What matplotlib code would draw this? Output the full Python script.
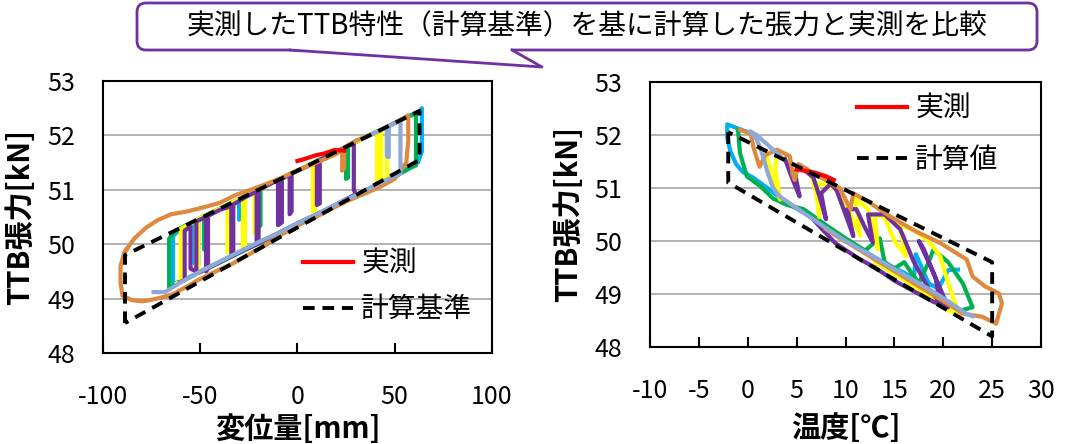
import matplotlib
matplotlib.use('Agg')
import matplotlib.pyplot as plt
from matplotlib.patches import FancyBboxPatch, Polygon

plt.rcParams['font.family'] = ['Noto Sans CJK JP', 'DejaVu Sans']
plt.rcParams['axes.unicode_minus'] = False

title = '実測したTTB特性（計算基準）を基に計算した張力と実測を比較'
ylabel = 'TTB張力[kN]'
xlabel_L = '変位量[mm]'
xlabel_R = '温度[℃]'
legend_L = ['実測', '計算基準']
legend_R = ['実測', '計算値']

xticks_L = [-100, -50, 0, 50, 100]
xticks_R = [-10, -5, 0, 5, 10, 15, 20, 25, 30]
yticks = [48, 49, 50, 51, 52, 53]

# ---- left panel: displacement [mm] vs tension [kN] ----
calc_L = [(-88.7, 48.55), (-88.7, 49.8), (62.8, 52.45), (62.8, 51.55), (-88.7, 48.55)]

red_L = [(0, 51.53), (4, 51.57), (9, 51.63), (14, 51.67), (19, 51.73), (24, 51.72)]

blue_L = [(55, 52.32), (60, 52.4), (63, 52.45), (64, 52.5), (64, 51.7), (62, 51.5), (58, 51.42),
          (50, 51.26), (40, 51.08), (30, 50.9), (20, 50.72), (10, 50.55), (0, 50.38), (-10, 50.2),
          (-20, 50.02), (-30, 49.85), (-40, 49.67), (-50, 49.5), (-58, 49.35), (-63, 49.28),
          (-64, 49.3), (-64, 50.15), (-62, 50.22), (-59, 50.28), (-56, 50.35), (-53, 50.4),
          (-53, 49.65), (-51, 49.62), (-51, 50.44), (-46, 50.55), (-42, 50.62), (-38, 50.68),
          (-34, 50.75), (-30, 50.82), (-30, 50.45), (-29, 50.5)]

green_L = [(61, 52.4), (61, 51.45), (58, 51.4), (50, 51.24), (40, 51.06), (30, 50.89), (20, 50.71),
           (10, 50.54), (0, 50.36), (-10, 50.19), (-20, 50.01), (-30, 49.84), (-40, 49.66),
           (-50, 49.49), (-60, 49.31), (-66, 49.2), (-66, 50.1), (-64, 50.2), (-60, 50.3),
           (-56, 50.37), (-50, 50.48), (-48, 50.52), (-48, 49.9), (-47, 49.92), (-47, 50.53),
           (-40, 50.65), (-30, 50.83), (-20, 51.0), (-20, 50.3), (-19, 50.35), (-19, 51.02),
           (-10, 51.18), (0, 51.35), (10, 51.53), (20, 51.7), (25, 51.79), (25, 51.2), (26, 51.22),
           (26, 51.8), (35, 51.97), (45, 52.14), (55, 52.32), (61, 52.4)]

yellow_L = [(-62, 49.28), (-60, 49.3), (-60, 50.28), (-56, 50.36), (-52, 50.44), (-52, 49.45),
            (-51, 49.5), (-51, 50.46), (-42, 50.62), (-36, 50.72), (-36, 49.85), (-35, 49.87),
            (-35, 50.74), (-28, 50.86), (-28, 49.9), (-27, 49.94), (-27, 50.88), (-22, 50.96),
            (-22, 50.2), (-21, 50.24), (-21, 50.98), (-10, 51.18), (0, 51.35), (8, 51.5), (8, 50.6),
            (9, 50.63), (9, 51.51), (20, 51.7), (30, 51.88), (41, 52.07), (41, 51.1), (43, 51.15),
            (43, 52.1), (46, 52.15), (46, 51.3), (47, 51.28), (40, 51.06), (30, 50.89), (20, 50.71)]

purple_L = [(-60, 49.31), (-58, 49.34), (-58, 50.25), (-55, 50.32), (-55, 49.55), (-52, 49.5),
            (-52, 50.42), (-47, 50.5), (-47, 49.5), (-46, 49.55), (-46, 50.52), (-40, 50.63),
            (-34, 50.7), (-34, 49.8), (-33, 49.8), (-33, 50.73), (-27, 50.86), (-21, 50.97),
            (-21, 50.05), (-20, 50.05), (-20, 51.0), (-15, 51.09), (-10, 51.18), (-10, 50.35),
            (-8, 50.4), (-8, 51.2), (-4, 51.28), (-4, 50.55), (-3, 50.6), (-3, 51.3), (2, 51.38),
            (10, 51.52), (10, 50.72), (11.5, 50.75), (11.5, 51.55), (20, 51.7), (29, 51.86),
            (29, 51.0), (30, 50.92), (20, 50.73), (10, 50.55), (0, 50.38), (-10, 50.2),
            (-20, 50.02), (-30, 49.85), (-40, 49.67), (-50, 49.49)]

orange_L = [(-88, 49.9), (-84, 50.1), (-78, 50.3), (-72, 50.44), (-65, 50.55), (-57, 50.6),
            (-48, 50.68), (-40, 50.76), (-32, 50.9), (-24, 51.0), (-15, 51.12), (-7, 51.24),
            (0, 51.36), (10, 51.5), (20, 51.66), (23, 51.74), (23, 51.35), (24, 51.4), (24, 51.78),
            (30, 51.9), (40, 52.05), (50, 52.22), (57, 52.37), (57, 51.9), (56, 51.5), (50, 51.2),
            (44, 51.08), (36, 50.95), (26, 50.8), (18, 50.66), (10, 50.51), (1, 50.36), (-8, 50.18),
            (-16, 49.99), (-25, 49.81), (-33, 49.65), (-42, 49.5), (-50, 49.36), (-57, 49.22),
            (-64, 49.08), (-70, 49.02), (-76, 48.97), (-80, 48.95), (-85, 48.97), (-90, 49.05),
            (-91, 49.3), (-91, 49.6), (-89, 49.85), (-88, 49.9)]

gray_L = [(-74, 49.12), (-68, 49.12), (-60, 49.3), (-50, 49.5), (-40, 49.68), (-30, 49.86),
          (-20, 50.04), (-10, 50.2), (0, 50.38), (10, 50.55), (20, 50.73), (30, 50.9), (40, 51.08),
          (48, 51.22), (53, 51.3), (53, 52.28), (50, 52.22), (47, 52.17), (47, 51.6), (46, 51.62),
          (46, 52.15), (40, 52.05), (35, 51.96)]

# ---- right panel: temperature [C] vs tension [kN] ----
calc_R = [(-2, 52.05), (-2, 51.1), (25, 48.2), (25, 49.6), (-2, 52.05)]

red_R = [(5.0, 51.35), (6, 51.32), (7, 51.28), (8, 51.22), (8.8, 51.15)]

blue_R = [(0.5, 52.02), (-1, 52.12), (-2.1, 52.2), (-2.1, 51.95), (-1.8, 51.7), (-1.2, 51.45),
          (-0.5, 51.3), (0.5, 51.2), (2, 51.0), (4, 50.72), (6, 50.5), (8, 50.27), (10, 50.02),
          (12, 49.8), (14, 49.58), (16, 49.4), (17, 49.3), (17.2, 49.75), (18.5, 49.2),
          (19.5, 49.1), (20.5, 49.45), (21.5, 49.46)]

green_R = [(-1, 52.1), (-0.8, 51.66), (-0.1, 51.22), (1.3, 51.03), (2.6, 50.8), (4, 50.68),
           (5.7, 50.6), (8, 50.3), (10, 50.05), (12, 49.82), (13.5, 50.05), (14, 49.6), (15, 49.48),
           (16, 49.6), (17.5, 49.2), (18.5, 49.6), (19, 49.84), (20.5, 49.6), (22, 49.2),
           (23, 48.75), (22, 48.7)]

yellow_R = [(1.8, 51.7), (2.5, 51.2), (3.3, 50.78), (2.8, 51.4), (3, 51.62), (6.5, 51.25),
            (7, 50.9), (7.3, 50.45), (7.2, 51.1), (9.5, 50.95), (10.5, 50.5), (11.5, 50.1),
            (11, 50.8), (12.3, 50.6), (13, 50.1), (13.3, 49.84), (13, 50.5), (14, 50.45),
            (15, 50.0), (16.2, 49.71), (15.5, 50.3), (17, 50.2), (18.5, 50.0), (19.7, 49.71),
            (20.5, 49.2), (21.7, 48.58), (20.5, 48.7), (19, 48.9), (17, 49.15), (15, 49.38),
            (13, 49.6)]

purple_R = [(3.8, 51.55), (4.5, 51.2), (5.3, 50.84), (4.8, 51.3), (5.5, 51.38), (6.7, 51.2),
            (7.4, 50.8), (8, 50.41), (7.5, 50.9), (8.5, 51.08), (9.1, 50.95), (10, 50.5),
            (10.8, 50.09), (10.2, 50.6), (11.1, 50.6), (12, 50.25), (12.8, 49.97), (12.3, 50.5),
            (14, 50.5), (15.6, 50.22), (17, 49.6), (18.5, 49.1), (19.7, 48.83), (19.2, 49.3),
            (18, 49.85), (17.5, 50.0), (19, 49.4), (20.5, 48.75), (19, 48.85), (17, 49.05),
            (15, 49.25), (13, 49.5), (11.5, 49.65), (9, 49.95), (6.7, 50.4)]

orange_R = [(-0.8, 52.1), (0.3, 52.02), (0.6, 51.75), (1.2, 51.4), (1.8, 51.62), (3, 51.72),
            (4.3, 51.6), (4.6, 51.25), (4.8, 51.15), (5.2, 51.45), (7, 51.25), (9.4, 51.0),
            (10.5, 50.6), (10.8, 50.9), (12.5, 50.72), (14.5, 50.47), (17, 50.2), (19.7, 49.96),
            (22.4, 49.65), (23, 49.33), (24.3, 49.14), (25.7, 49.01), (26, 48.82), (25.4, 48.44),
            (24, 48.57), (22, 48.63), (21, 48.75), (19, 48.98), (17, 49.2), (15, 49.43),
            (13, 49.65), (11, 49.88), (9, 50.1), (8, 50.22)]

gray_R = [(3.3, 51.6), (2, 51.82), (0.9, 52.0), (0.2, 52.07), (0.8, 51.95), (1.3, 51.75),
          (1.7, 51.5), (2.1, 51.25), (2.6, 51.0), (3.2, 50.85), (5, 50.62), (7.7, 50.28),
          (10, 50.0), (12.8, 49.71), (14.5, 49.52), (16.3, 49.33), (18, 49.15), (19.7, 48.96),
          (21, 48.8), (22.4, 48.62), (23, 48.58)]

C_RED = '#FF0000'
C_BLUE = '#00B0F0'
C_GREEN = '#00B050'
C_YELLOW = '#FFFF00'
C_PURPLE = '#7030A0'
C_ORANGE = '#DD8A3E'
C_GRAY = '#8EA9D5'


def draw(ax, pts, color, lw=3.0, z=2, **kw):
    x, y = zip(*pts)
    return ax.plot(x, y, color=color, lw=lw, zorder=z, solid_joinstyle='round', **kw)[0]


def style(ax, xlim, xticks):
    ax.set_xlim(*xlim)
    ax.set_ylim(48, 53)
    ax.set_xticks(xticks)
    ax.set_yticks(yticks)
    ax.yaxis.grid(True, color='#A6A6A6', lw=1.2)
    ax.set_axisbelow(True)
    ax.tick_params(axis='x', direction='in', length=7, width=1.5, pad=22, labelsize=18)
    ax.tick_params(axis='y', length=0, pad=20, labelsize=18)
    for s in ax.spines.values():
        s.set_linewidth(1.5)
        s.set_color('black')


fig = plt.figure(figsize=(10.8, 4.44), dpi=100)
axL = fig.add_axes([0.0954, 0.205, 0.360, 0.6126])
axR = fig.add_axes([0.6019, 0.2185, 0.362, 0.597])

style(axL, (-100, 100), xticks_L)
style(axR, (-10, 30), xticks_R)

for ax, series, calc, red in [
    (axL, [blue_L, green_L, yellow_L, purple_L, orange_L, gray_L], calc_L, red_L),
    (axR, [blue_R, green_R, yellow_R, purple_R, orange_R, gray_R], calc_R, red_R),
]:
    for pts, c in zip(series, [C_BLUE, C_GREEN, C_YELLOW, C_PURPLE, C_ORANGE, C_GRAY]):
        draw(ax, pts, c)
    h_red = draw(ax, red, C_RED, z=3)
    h_calc = draw(ax, calc, 'black', lw=2.8, z=4, linestyle=(0, (3, 2)))
    ax._handles = [h_red, h_calc]

axL.legend(axL._handles, legend_L, loc='upper left', bbox_to_anchor=(0.514, 0.382),
           frameon=False, fontsize=20, handlelength=1.8, handletextpad=0.3,
           labelspacing=0.55, borderpad=0, borderaxespad=0)
axR.legend(axR._handles, legend_R, loc='upper left', bbox_to_anchor=(0.529, 0.955),
           frameon=False, fontsize=20, handlelength=1.8, handletextpad=0.3,
           labelspacing=0.75, borderpad=0, borderaxespad=0)

for ax, xl in [(axL, xlabel_L), (axR, xlabel_R)]:
    ax.set_ylabel(ylabel, fontsize=21, fontweight='bold')
    ax.set_xlabel(xl, fontsize=21, fontweight='bold')
axL.yaxis.set_label_coords(-0.175, 0.5)
axR.yaxis.set_label_coords(-0.171, 0.5)
axL.xaxis.set_label_coords(0.5, -0.225)
axR.xaxis.set_label_coords(0.5, -0.25)

# callout box with tail, drawn in pixel coordinates
ov = fig.add_axes([0, 0, 1, 1])
ov.set_xlim(0, 1080)
ov.set_ylim(444, 0)
ov.axis('off')
ov.patch.set_visible(False)
box = FancyBboxPatch((137, 3), 900, 47, boxstyle='round,pad=0,rounding_size=9',
                     facecolor='white', edgecolor=C_PURPLE, lw=2)
ov.add_patch(box)
ov.add_patch(Polygon([(292, 47), (510, 47), (512, 50), (542, 67), (290, 50)],
                     closed=True, facecolor='white', edgecolor='none', zorder=3))
ov.plot([290, 542, 512], [50, 67, 50], color=C_PURPLE, lw=2, zorder=4)
ov.text(587, 26, title, ha='center', va='center', fontsize=20, zorder=5)

fig.savefig('out.png', dpi=100)
